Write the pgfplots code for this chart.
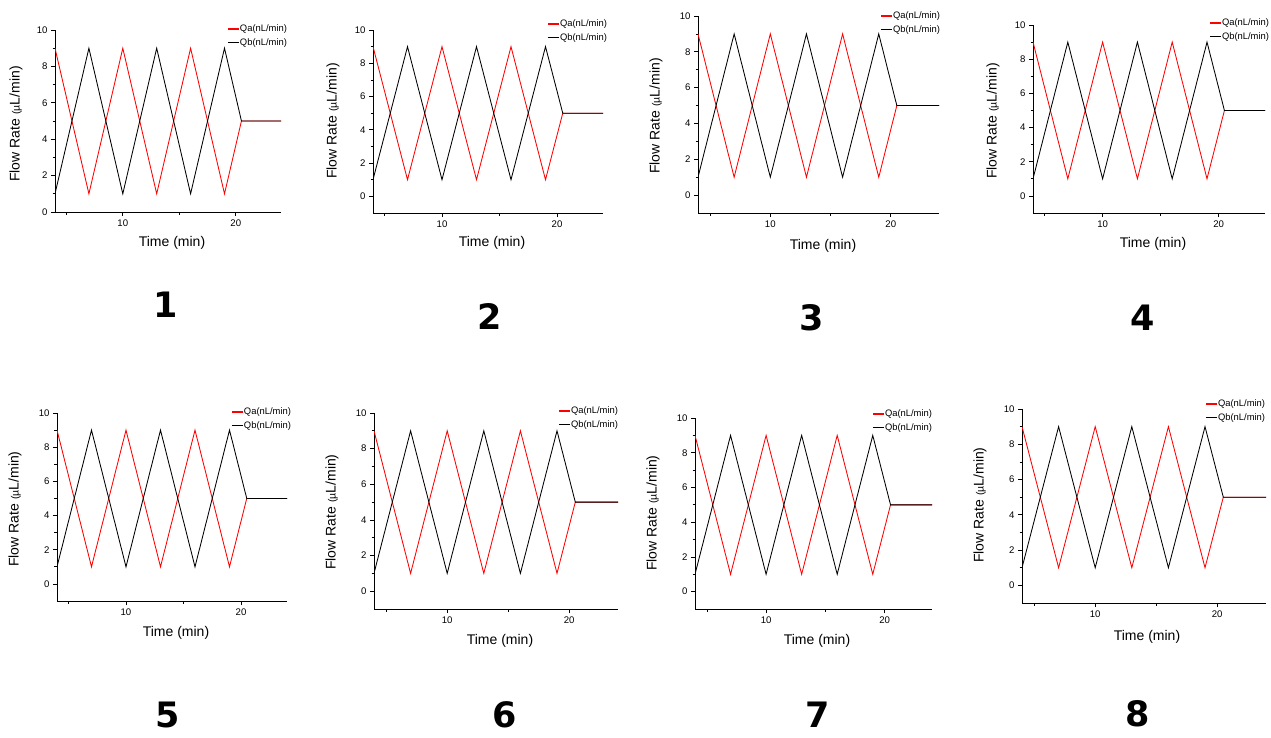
\documentclass[border=0pt]{standalone}
\usepackage{pgfplots}
\pgfplotsset{compat=1.18}
\usepackage{pgfplotstable}
\usepackage{fontspec}
\setmainfont{Liberation Sans}
\newfontfamily\numfont{DejaVu Sans}

\pgfplotstableread{
t q
4 9
7 1
10 9
13 1
16 9
19 1
20.5 5
24 5
}\qa
\pgfplotstableread{
t q
4 1
7 9
10 1
13 9
16 1
19 9
20.5 5
24 5
}\qb

\pgfplotsset{
  panel/.style={
    scale only axis,
    axis lines=left,
    axis line style={-, line width=0.8pt},
    xmin=4, xmax=24, ymax=10,
    xtick={10,20}, minor xtick={5,15},
    ytick={0,2,...,10}, minor ytick={1,3,5,7,9},
    tick align=outside,
    major tick length=4pt, minor tick length=2.5pt,
    tick style={black, line width=0.7pt},
    tick label style={font=\fontsize{9.6}{11}\selectfont},
    /pgf/number format/assume math mode=true,
    legend cell align=left,
    legend image code/.code={\draw[#1, line width=1.3pt] (0pt,0pt) -- (11pt,0pt);},
    legend style={draw=none, fill=none, anchor=north west, inner sep=0pt,
      row sep=4.6pt,
      nodes={inner sep=0.5pt, font=\fontsize{9.4}{10}\selectfont}},
    every axis plot/.append style={line width=0.85pt, mark=none},
  }
}

% #1 x4, #2 x24, #3 ytop, #4 ybot, #5 ymin, #6 legx, #7 legy  (pixel coords, y down)
\newcommand\panel[7]{%
  \pgfmathsetmacro\pw{#2-#1}%
  \pgfmathsetmacro\ph{#4-#3}%
  \pgfmathsetmacro\relx{(#6-#1)/(#2-#1)}%
  \pgfmathsetmacro\rely{(#4-#7)/(#4-#3)}%
  \begin{axis}[panel, at={(#1pt,-#4pt)}, anchor=south west,
      width=\pw pt, height=\ph pt, ymin=#5,
      legend style={at={(axis description cs:\relx,\rely)}}]
    \addplot[red] table[x=t,y=q] {\qa};
    \addlegendentry{Qa(nL/min)}
    \addplot[black] table[x=t,y=q] {\qb};
    \addlegendentry{Qb(nL/min)}
  \end{axis}}

\newcommand\xlab[2]{\node[font=\fontsize{14}{16}\selectfont] at (#1,-#2) {Time (min)};}
\newcommand\ylab[2]{\node[rotate=90, font=\fontsize{14}{16}\selectfont] at (#1,-#2) {Flow Rate {\fontsize{10.5}{12}\selectfont(\textmu}L/min)};}
\newcommand\numlab[3]{\node[font=\numfont\bfseries\fontsize{35}{38}\selectfont] at (#1,-#2) {#3};}

\begin{document}
\begin{tikzpicture}[x=1pt,y=1pt]
\useasboundingbox (0,-737) rectangle (1271,0);

\panel{55}{281}{30}{212}{0}{227}{24}
\panel{373}{603}{30}{213}{-1}{547}{19}
\panel{698}{939}{16}{213}{-1}{880}{11}
\panel{1033}{1265}{25}{213}{-1}{1209}{18}
\panel{57}{287}{413}{601}{-1}{231}{407}
\panel{374}{618}{413}{609}{-1}{558}{406}
\panel{695}{932}{418}{609}{-1}{872}{409}
\panel{1022}{1266}{409}{603}{-1}{1205}{399}

\xlab{172}{243}
\xlab{492}{243}
\xlab{823}{246}
\xlab{1153}{244}
\xlab{176}{633}
\xlab{500}{641}
\xlab{817}{641}
\xlab{1147}{637}

\ylab{16}{124}
\ylab{333}{121}
\ylab{656}{116}
\ylab{993}{121}
\ylab{15}{509}
\ylab{332}{512}
\ylab{653}{513}
\ylab{980}{505}

\numlab{166}{305}{1}
\numlab{490}{317}{2}
\numlab{812}{318}{3}
\numlab{1143}{318}{4}
\numlab{168}{715}{5}
\numlab{505}{715}{6}
\numlab{818}{715}{7}
\numlab{1138}{714}{8}
\end{tikzpicture}
\end{document}
